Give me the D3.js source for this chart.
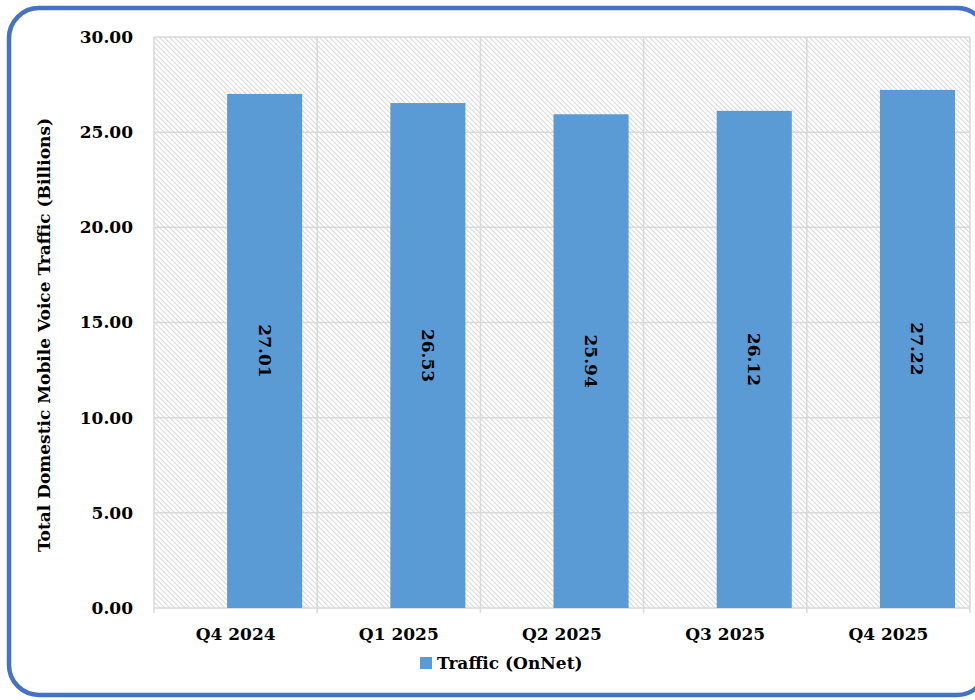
<!DOCTYPE html>
<html>
<head>
<meta charset="utf-8">
<script src="https://cdn.jsdelivr.net/npm/d3@7"></script>
<style>
  html, body { margin: 0; padding: 0; background: #fff; }
  svg { display: block; }
  text { font-family: "DejaVu Serif", "Liberation Serif", serif; font-weight: bold; fill: #000; }
</style>
</head>
<body>
<svg id="chart" width="975" height="700"></svg>
<script>
// Quarterly on-net voice traffic, billions
const categories = ["Q4 2024", "Q1 2025", "Q2 2025", "Q3 2025", "Q4 2025"];
const trafficOnNet = [27.01, 26.53, 25.94, 26.12, 27.22];
const yTicks = [0, 5, 10, 15, 20, 25, 30];
const seriesName = "Traffic (OnNet)";
const yTitle = "Total Domestic Mobile Voice Traffic (Billions)";

const W = 975, H = 700;
const margin = { top: 37, right: 5, bottom: 92, left: 154 };
const plotW = W - margin.left - margin.right;
const plotH = H - margin.top - margin.bottom;

const svg = d3.select("#chart");

// Diagonal hatch fill for the plot background
const defs = svg.append("defs");
const pat = defs.append("pattern")
  .attr("id", "hatch")
  .attr("patternUnits", "userSpaceOnUse")
  .attr("width", 5).attr("height", 5);
pat.append("rect").attr("width", 5).attr("height", 5).attr("fill", "#fff");
pat.append("path")
  .attr("d", "M-1,-1 L6,6 M-1,4 L1,6 M4,-1 L6,1")
  .attr("stroke", "#dadada").attr("stroke-width", 1.1);

// Rounded outer frame
svg.append("rect")
  .attr("x", 9).attr("y", 8)
  .attr("width", 978).attr("height", 687)
  .attr("rx", 30).attr("ry", 30)
  .attr("fill", "none")
  .attr("stroke", "#4472C4").attr("stroke-width", 4.5);

const g = svg.append("g").attr("transform", `translate(${margin.left},${margin.top})`);

const x = d3.scaleBand().domain(categories).range([0, plotW]).padding(0);
const y = d3.scaleLinear().domain([0, 30]).range([plotH, 0]);

// Plot area background
g.append("rect").attr("width", plotW).attr("height", plotH).attr("fill", "url(#hatch)");

// Horizontal gridlines
g.append("g").selectAll("line").data(yTicks).join("line")
  .attr("x1", 0).attr("x2", plotW)
  .attr("y1", d => y(d)).attr("y2", d => y(d))
  .attr("stroke", "#d9d9d9").attr("stroke-width", 1.5);

// Vertical category separators (extend below axis as tick marks)
const seps = categories.map(c => x(c)).concat([plotW]);
g.append("g").selectAll("line").data(seps).join("line")
  .attr("x1", d => d).attr("x2", d => d)
  .attr("y1", 0).attr("y2", plotH + 5)
  .attr("stroke", "#d9d9d9").attr("stroke-width", 1.5);

// Bars sit in the right part of each category band
const barOffset = x.bandwidth() * 0.448;
const barW = x.bandwidth() * 0.46;
g.append("g").selectAll("rect").data(categories).join("rect")
  .attr("x", d => x(d) + barOffset)
  .attr("width", barW)
  .attr("y", (d, i) => y(trafficOnNet[i]))
  .attr("height", (d, i) => plotH - y(trafficOnNet[i]))
  .attr("fill", "#5B9BD5");

// Value labels, rotated inside the bars
g.append("g").selectAll("text").data(categories).join("text")
  .attr("transform", (d, i) => {
    const cx = x(d) + barOffset + barW / 2;
    const cy = (y(trafficOnNet[i]) + plotH) / 2;
    return `translate(${cx},${cy}) rotate(90)`;
  })
  .attr("text-anchor", "middle")
  .attr("dy", "0.35em")
  .style("font-size", "17px")
  .text((d, i) => trafficOnNet[i].toFixed(2));

// Y axis labels
const yAxis = d3.axisLeft(y).tickValues(yTicks).tickSize(0).tickPadding(21)
  .tickFormat(d => d.toFixed(2));
const ya = g.append("g").call(yAxis);
ya.select(".domain").remove();
ya.selectAll("text").style("font-size", "17px").style("font-family", null);

// X axis labels
const xAxis = d3.axisBottom(x).tickSize(0).tickPadding(20);
const xa = g.append("g").attr("transform", `translate(0,${plotH})`).call(xAxis);
xa.select(".domain").remove();
xa.selectAll("text").style("font-size", "17px").style("font-family", null);

// Y axis title
svg.append("text")
  .attr("transform", `translate(50,${(112 + 558) / 2}) rotate(-90)`)
  .attr("text-anchor", "middle")
  .style("font-size", "17px")
  .text(yTitle);

// Legend
const lg = svg.append("g").attr("transform", "translate(420,657)");
lg.append("rect").attr("width", 12).attr("height", 12).attr("fill", "#5B9BD5");
lg.append("text").attr("x", 17).attr("y", 6).attr("dy", "0.35em")
  .style("font-size", "17px").text(seriesName);
</script>
</body>
</html>
